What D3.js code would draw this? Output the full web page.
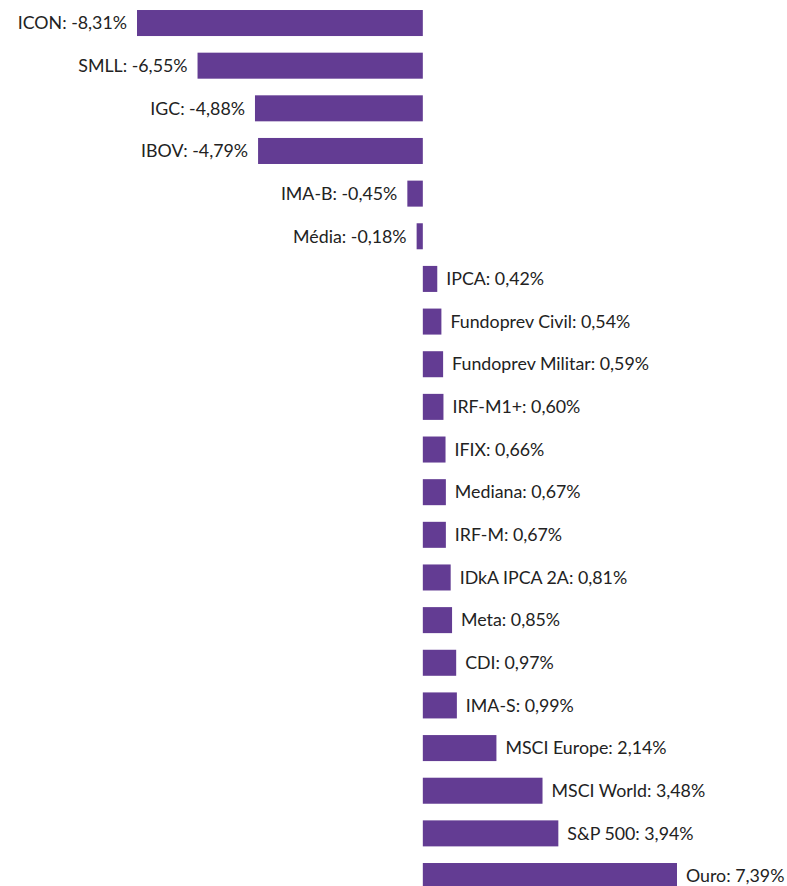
<!DOCTYPE html>
<html>
<head>
<meta charset="utf-8">
<script src="https://cdn.jsdelivr.net/npm/d3@7"></script>
<style>
  html, body { margin: 0; padding: 0; background: #fff; }
  svg text { font-family: Lato, "Open Sans", sans-serif; font-size: 17.8px; font-weight: 400; fill: #222; }
</style>
</head>
<body>
<svg id="chart" width="787" height="886"></svg>
<script>
// dados
const nomes = ["ICON", "SMLL", "IGC", "IBOV", "IMA-B", "Média", "IPCA", "Fundoprev Civil",
  "Fundoprev Militar", "IRF-M1+", "IFIX", "Mediana", "IRF-M", "IDkA IPCA 2A", "Meta",
  "CDI", "IMA-S", "MSCI Europe", "MSCI World", "S&P 500", "Ouro"];
const valores = [-8.31, -6.55, -4.88, -4.79, -0.45, -0.18, 0.42, 0.54, 0.59, 0.60, 0.66,
  0.67, 0.67, 0.81, 0.85, 0.97, 0.99, 2.14, 3.48, 3.94, 7.39];

const svg = d3.select("#chart");
const fmt = v => v.toFixed(2).replace(".", ",") + "%";

const x = d3.scaleLinear()
  .domain([d3.min(valores), d3.max(valores)])
  .range([137, 677]);

const y = d3.scaleBand()
  .domain(nomes)
  .range([1.7, 1.7 + 42.65 * nomes.length])
  .paddingInner(0.39)
  .paddingOuter(0.195);

const dados = nomes.map((n, i) => ({ nome: n, valor: valores[i] }));

svg.selectAll("rect.bar")
  .data(dados)
  .join("rect")
  .attr("class", "bar")
  .attr("x", d => x(Math.min(0, d.valor)))
  .attr("width", d => Math.abs(x(d.valor) - x(0)))
  .attr("y", d => y(d.nome))
  .attr("height", y.bandwidth())
  .attr("fill", "#633c93");

svg.selectAll("text.rotulo")
  .data(dados)
  .join("text")
  .attr("class", "rotulo")
  .attr("x", d => d.valor < 0 ? x(d.valor) - 10 : x(d.valor) + 9)
  .attr("y", d => y(d.nome) + y.bandwidth() / 2)
  .attr("dy", "0.35em")
  .attr("text-anchor", d => d.valor < 0 ? "end" : "start")
  .text(d => d.nome + ": " + fmt(d.valor));
</script>
</body>
</html>
